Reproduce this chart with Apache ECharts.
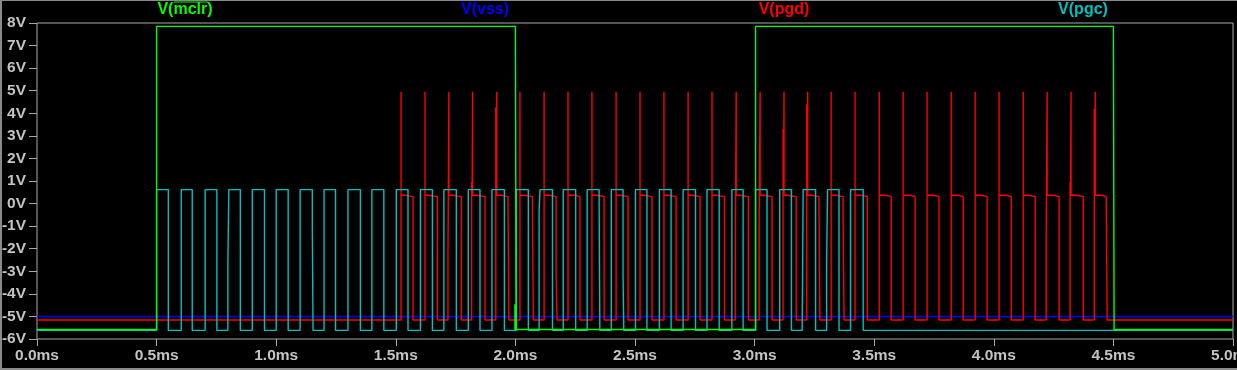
<!DOCTYPE html>
<html>
<head>
<meta charset="utf-8">
<script src="https://cdn.jsdelivr.net/npm/echarts@6/dist/echarts.min.js"></script>
<style>
  html, body { margin: 0; padding: 0; background: #000; }
  #wrap { position: relative; width: 1237px; height: 370px; }
  #chart { width: 1237px; height: 370px; }
  #frame { position: absolute; left: 0; top: 0; width: 1237px; height: 370px; box-sizing: border-box;
           border-left: 2px solid #8a8a8a; border-top: 1px solid #8a8a8a; border-bottom: 2px solid #8a8a8a; pointer-events: none; }
</style>
</head>
<body>
<div id="wrap"><div id="chart"></div><div id="frame"></div></div>
<script>
// ---- series names ----
const seriesNames = ['V(mclr)', 'V(vss)', 'V(pgd)', 'V(pgc)'];

// ---- V(mclr): [time ms, volts] ----
const mclrPoints = [[0, -5.58], [0.5, -5.58], [0.5, 7.85], [2.0, 7.85], [2.0, 7.7], [2.003, 7.7], [2.003, -5.58],
  [1.998, -5.58], [1.998, -4.46], [1.998, -5.58], [3.004, -5.58], [3.004, 7.85], [4.5, 7.85], [4.5, 7.7],
  [4.503, 7.7], [4.503, -5.58], [5.0, -5.58]];

// ---- V(vss) ----
const vssPoints = [[0, -5.0], [5.0, -5.0]];

// ---- V(pgc): clock pulses ----
const pgcHigh = 0.62;
const pgcLow = -5.62;
const pgcRise = [0.500, 0.603, 0.703, 0.802, 0.900, 1.000, 1.100, 1.200, 1.300, 1.400,
  1.502, 1.603, 1.701, 1.803, 1.902, 2.004, 2.103, 2.200, 2.300, 2.401,
  2.502, 2.602, 2.701, 2.801, 2.905, 3.004, 3.105, 3.203, 3.305, 3.401];
const pgcFall = [0.549, 0.649, 0.752, 0.850, 0.951, 1.050, 1.151, 1.248, 1.352, 1.450,
  1.551, 1.653, 1.753, 1.852, 1.954, 2.054, 2.155, 2.252, 2.350, 2.450,
  2.550, 2.651, 2.753, 2.852, 2.952, 3.052, 3.154, 3.255, 3.353, 3.454];
const pgcRiseMid = [null, null, null, -2.6, null, null, null, null, null, null,
  null, null, null, null, null, null, -0.34, null, null, null,
  null, null, null, null, null, null, null, -5.38, -2.7, null];
const pgcFallMid = [null, null, null, null, null, null, -1.18, null, null, null,
  null, null, null, null, null, null, null, null, 0.19, -3.1,
  null, null, null, null, null, null, null, null, null, null];

// ---- V(pgd): data pulses ----
const pgdLow = -5.16;
const pgdPeak = 4.95;
const pgdHigh1 = 0.37;
const pgdHigh2 = 0.31;
const pgdRise = [1.522, 1.622, 1.722, 1.821, 1.922, 2.019, 2.120, 2.220, 2.320, 2.421,
  2.521, 2.621, 2.722, 2.822, 2.923, 3.023, 3.123, 3.222, 3.320, 3.420,
  3.521, 3.621, 3.721, 3.822, 3.922, 4.022, 4.123, 4.223, 4.323, 4.424];
const pgdStep = [1.540, 1.637, 1.739, 1.839, 1.941, 2.038, 2.143, 2.245, 2.344, 2.439,
  2.538, 2.638, 2.739, 2.838, 2.938, 3.038, 3.136, 3.238, 3.339, 3.444,
  3.549, 3.649, 3.749, 3.850, 3.950, 4.051, 4.148, 4.248, 4.349, 4.449];
const pgdFall = [1.572, 1.674, 1.774, 1.873, 1.973, 2.075, 2.174, 2.270, 2.371, 2.471,
  2.571, 2.672, 2.772, 2.874, 2.974, 3.073, 3.174, 3.273, 3.374, 3.471,
  3.571, 3.671, 3.771, 3.872, 3.972, 4.073, 4.173, 4.273, 4.374, 4.474];
const pgdRiseMid = [null, null, -2.4, 0.96, 4.27, null, null, null, null, null,
  null, null, null, null, -3.36, -1.03, 3.29, 4.4, null, null,
  null, null, null, null, null, null, null, -1.54, 0.96, 4.2];
const pgdFallMid = [null, null, null, null, 0.07, -0.07, -3.0, null, null, null,
  null, null, null, null, null, null, null, 0.07, -0.52, null,
  null, null, null, null, null, null, null, null, null, 0.07];

// ---- axis ticks ----
const xMin = 0, xMax = 5, xStep = 0.5;
const yMin = -6, yMax = 8, yStep = 1;

// ---- build point lists from the edge tables ----
const D = 0.004; // one pixel of time
function buildPgc() {
  const p = [[0, pgcLow]];
  for (let i = 0; i < pgcRise.length; i++) {
    const r = pgcRise[i], f = pgcFall[i];
    if (pgcRiseMid[i] !== null) { p.push([r - D, pgcLow], [r - D, pgcRiseMid[i]], [r, pgcRiseMid[i]]); }
    else p.push([r, pgcLow]);
    p.push([r, pgcHigh], [f, pgcHigh]);
    if (pgcFallMid[i] !== null) { p.push([f, pgcFallMid[i]], [f + 0.003, pgcFallMid[i]], [f + 0.003, pgcLow]); }
    else p.push([f, pgcLow]);
  }
  p.push([5, pgcLow]);
  return p;
}
function buildPgd() {
  const p = [[0, pgdLow]];
  for (let i = 0; i < pgdRise.length; i++) {
    const r = pgdRise[i], s = pgdStep[i], f = pgdFall[i];
    const rm = pgdRiseMid[i], fm = pgdFallMid[i];
    if (rm !== null) {
      p.push([r - D, pgdLow], [r - D, rm]);
      if (rm > pgdHigh1) p.push([r - D / 2, pgdHigh1]); else p.push([r, rm]);
    } else p.push([r, pgdLow]);
    p.push([r, pgdPeak], [r, pgdHigh1], [s, pgdHigh1], [s, pgdHigh2]);
    if (fm !== null) p.push([f - D, pgdHigh2], [f - D, fm], [f, fm]);
    else p.push([f, pgdHigh2]);
    p.push([f, pgdLow]);
  }
  p.push([5, pgdLow]);
  return p;
}

const colors = ['#00ff00', '#0000ff', '#ff0000', '#00c0c0'];
const FONT = '"Liberation Sans", Arial, sans-serif';
const labelGrey = '#c4c4c4';
const frameGrey = '#a8a8a8';

const chart = echarts.init(document.getElementById('chart'), null, { renderer: 'canvas' });
const titleCenters = [185, 485, 784, 1083];
const graphics = seriesNames.map((n, i) => ({
  type: 'text', x: titleCenters[i], y: 10, silent: true,
  style: { text: n, fill: colors[i], font: 'bold 16px ' + FONT, align: 'center', verticalAlign: 'middle',
           textAlign: 'center', textVerticalAlign: 'middle' }
}));
graphics.push({ type: 'line', silent: true, shape: { x1: 174, y1: 2, x2: 208, y2: 2 },
  style: { stroke: colors[0], lineWidth: 1 } });

const line = (name, data, color, z) => ({
  name, type: 'line', data, showSymbol: false, symbol: 'none', silent: true, z,
  lineStyle: { color, width: 1.4 }, animation: false
});

chart.setOption({
  backgroundColor: '#000',
  animation: false,
  grid: { left: 37, right: 4, top: 23, bottom: 31, show: true, borderColor: frameGrey, borderWidth: 1,
          containLabel: false, outerBoundsMode: 'none' },
  xAxis: {
    type: 'value', min: xMin, max: xMax, interval: xStep,
    axisLine: { show: false, onZero: false },
    axisTick: { show: true, length: 7, lineStyle: { color: frameGrey } },
    splitLine: { show: false },
    axisLabel: { color: labelGrey, fontSize: 15.5, fontWeight: 'bold', fontFamily: FONT, margin: 9,
      hideOverlap: false, formatter: v => v.toFixed(1) + 'ms' }
  },
  yAxis: {
    type: 'value', min: yMin, max: yMax, interval: yStep,
    axisLine: { show: false, onZero: false },
    axisTick: { show: true, length: 8, lineStyle: { color: frameGrey } },
    splitLine: { show: false },
    axisLabel: { color: labelGrey, fontSize: 15.5, fontWeight: 'bold', fontFamily: FONT, margin: 11,
      formatter: v => v + 'V' }
  },
  graphic: graphics,
  series: [
    line(seriesNames[1], vssPoints, colors[1], 2),
    line(seriesNames[2], buildPgd(), colors[2], 3),
    line(seriesNames[3], buildPgc(), colors[3], 4),
    line(seriesNames[0], mclrPoints, colors[0], 5)
  ]
});
</script>
</body>
</html>
